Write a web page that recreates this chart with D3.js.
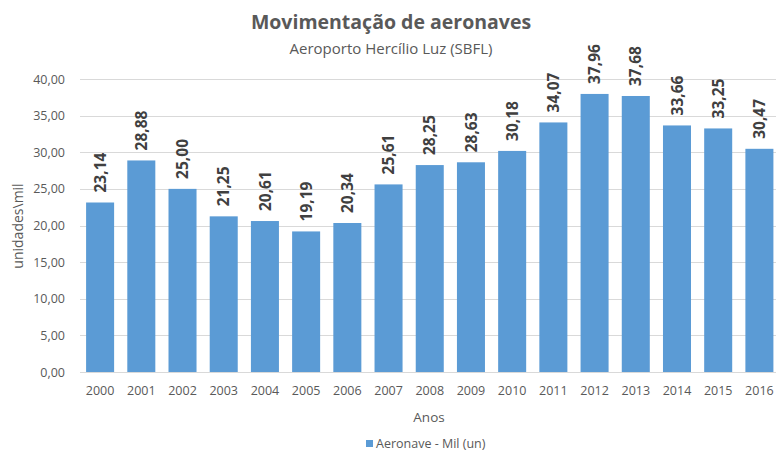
<!DOCTYPE html>
<html>
<head>
<meta charset="utf-8">
<script src="https://cdn.jsdelivr.net/npm/d3@7"></script>
<style>
  html, body { margin: 0; padding: 0; background: #fff; }
  svg { display: block; font-family: "Open Sans", sans-serif; }
</style>
</head>
<body>
<svg id="chart" width="776" height="451"></svg>
<script>
const years = ["2000","2001","2002","2003","2004","2005","2006","2007","2008","2009","2010","2011","2012","2013","2014","2015","2016"];
const aeronaves = [23.14, 28.88, 25.00, 21.25, 20.61, 19.19, 20.34, 25.61, 28.25, 28.63, 30.18, 34.07, 37.96, 37.68, 33.66, 33.25, 30.47];
const yTicks = [0, 5, 10, 15, 20, 25, 30, 35, 40];

const svg = d3.select("#chart");
const plotLeft = 80, plotRight = 776, plotTop = 79, plotBottom = 372;

const x = d3.scaleBand().domain(years).range([79.5, 780]).paddingInner(0.32).paddingOuter(0.16);
const y = d3.scaleLinear().domain([0, 40]).range([plotBottom, plotTop]);
const fmt = v => d3.format(".2f")(v).replace(".", ",");
const textColor = "#595959";

// horizontal gridlines
svg.append("g")
  .selectAll("line").data(yTicks).join("line")
  .attr("x1", plotLeft).attr("x2", plotRight)
  .attr("y1", d => Math.round(y(d)) + 0.5).attr("y2", d => Math.round(y(d)) + 0.5)
  .attr("stroke", "#d9d9d9").attr("stroke-width", 1);

// y axis tick labels
const yAxis = svg.append("g").attr("transform", `translate(65,0)`)
  .call(d3.axisLeft(y).tickValues(yTicks).tickFormat(fmt).tickSize(0).tickPadding(0));
yAxis.select(".domain").remove();
yAxis.selectAll("text").attr("font-size", 12.5).attr("fill", textColor).attr("font-family", "Open Sans, sans-serif");

// bars
svg.append("g")
  .selectAll("rect").data(aeronaves).join("rect")
  .attr("x", (d, i) => x(years[i]))
  .attr("width", x.bandwidth())
  .attr("y", d => y(d))
  .attr("height", d => plotBottom - y(d))
  .attr("fill", "#5b9bd5");

// x axis tick labels
const xAxis = svg.append("g").attr("transform", `translate(0,${plotBottom + 14})`)
  .call(d3.axisBottom(x).tickSize(0).tickPadding(0));
xAxis.select(".domain").remove();
xAxis.selectAll("text").attr("font-size", 12.5).attr("fill", textColor).attr("font-family", "Open Sans, sans-serif");

// rotated value labels above each bar
const labelSize = 15.5;
svg.append("g")
  .selectAll("text").data(aeronaves).join("text")
  .attr("transform", (d, i) => `translate(${x(years[i]) + x.bandwidth() / 2 + labelSize * 0.36},${y(d) - 10}) rotate(-90)`)
  .attr("text-anchor", "start")
  .attr("font-size", labelSize).attr("font-weight", "bold").attr("fill", "#404040")
  .text(d => fmt(d));

// titles
svg.append("text").attr("x", 391).attr("y", 29).attr("text-anchor", "middle")
  .attr("font-size", 19.5).attr("font-weight", "bold").attr("fill", textColor)
  .text("Movimentação de aeronaves");
svg.append("text").attr("x", 391).attr("y", 54).attr("text-anchor", "middle")
  .attr("font-size", 15).attr("fill", textColor)
  .text("Aeroporto Hercílio Luz (SBFL)");

// axis titles
svg.append("text").attr("x", 429).attr("y", 422).attr("text-anchor", "middle")
  .attr("font-size", 13.5).attr("fill", textColor).text("Anos");
svg.append("text").attr("transform", "translate(23,226) rotate(-90)").attr("text-anchor", "middle")
  .attr("font-size", 14).attr("fill", textColor).text("unidades\\mil");

// legend
svg.append("rect").attr("x", 366).attr("y", 440).attr("width", 7).attr("height", 7).attr("fill", "#5b9bd5");
svg.append("text").attr("x", 376).attr("y", 448).attr("font-size", 12.5).attr("fill", textColor)
  .text("Aeronave - Mil (un)");
</script>
</body>
</html>
